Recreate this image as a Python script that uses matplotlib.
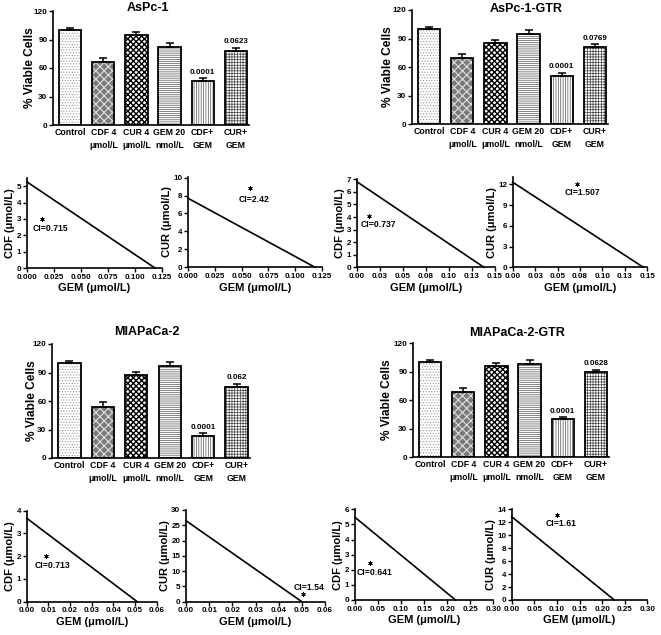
import matplotlib
matplotlib.use('Agg')
import matplotlib.pyplot as plt
import numpy as np

plt.rcParams['font.family'] = ['Liberation Sans', 'DejaVu Sans']
plt.rcParams['font.weight'] = 'bold'
plt.rcParams['axes.labelweight'] = 'bold'
plt.rcParams['hatch.linewidth'] = 0.5

# ---- bar chart data (% viable cells) ----
categories = ['Control', 'CDF 4\nμmol/L', 'CUR 4\nμmol/L', 'GEM 20\nnmol/L', 'CDF+\nGEM', 'CUR+\nGEM']
aspc1_mean = [100.3, 66, 95, 82.5, 46, 78]
aspc1_err = [2, 5, 3, 4.2, 3, 3.4]
aspc1_p = ['0.0001', '0.0623']
aspc1gtr_mean = [100.3, 69, 85.5, 95, 51, 81]
aspc1gtr_err = [2, 5, 3, 4, 3, 3]
aspc1gtr_p = ['0.0001', '0.0769']
mia_mean = [100, 54, 87.5, 97, 23.5, 75]
mia_err = [2, 5.3, 3, 4, 2.5, 3.4]
mia_p = ['0.0001', '0.062']
miagtr_mean = [100.5, 68, 96, 97.8, 39.5, 89]
miagtr_err = [2, 4.8, 2.8, 3.8, 2.2, 2.8]
miagtr_p = ['0.0001', '0.0628']
p_bars = [4, 5]

# ---- isobologram data: GEM intercept, drug intercept, combination point ----
iso_gem = [0.1185, 0.1185, 0.138, 0.1456, 0.051, 0.050, 0.218, 0.227]
iso_drug = [5.26, 7.7, 6.8, 12.3, 3.67, 26.5, 5.47, 12.86]
ci_x = [0.014, 0.058, 0.0134, 0.0713, 0.0088, 0.0506, 0.0326, 0.0996]
ci_y = [3.0, 8.8, 4.08, 12.0, 2.0, 2.4, 2.43, 13.1]
ci_text = ['CI=0.715', 'CI=2.42', 'CI=0.737', 'CI=1.507', 'CI=0.713', 'CI=1.54', 'CI=0.641', 'CI=1.61']
iso_drug_name = ['CDF', 'CUR', 'CDF', 'CUR', 'CDF', 'CUR', 'CDF', 'CUR']

W, H = 661, 635
fig = plt.figure(figsize=(W / 100, H / 100), dpi=100)


def add_ax(left, top, right, bottom):
    return fig.add_axes([left / W, 1 - bottom / H, (right - left) / W, (bottom - top) / H])


def fig_text(x, y, s, **kw):
    fig.text(x / W, 1 - y / H, s, **kw)


def style_spines(ax):
    ax.spines['top'].set_visible(False)
    ax.spines['right'].set_visible(False)
    for s in ['left', 'bottom']:
        ax.spines[s].set_linewidth(1.2)


# bar fill styles
bar_face = ['white', '#7a7a7a', 'white', 'white', 'white', 'white']
hatch_col = ['#9a9a9a', '#e0e0e0', 'black', '#555555', '#555555', '#444444']
hatches = ['......', 'xxxx', 'xxxxxx', '--------', '|||||||', '++++++']
hatch_lw = [0.5, 0.8, 1.0, 0.5, 0.5, 0.5]


def bar_panel(rect, title, title_xy, ylab_x, means, errs, pvals):
    ax = add_ax(*rect)
    x = np.arange(len(categories))
    for i in x:
        with plt.rc_context({'hatch.linewidth': hatch_lw[i]}):
            ax.bar(i, means[i], 0.67, color=bar_face[i], edgecolor=hatch_col[i],
                   hatch=hatches[i], linewidth=0, zorder=2)
    ax.bar(x, means, 0.67, fill=False, edgecolor='black', linewidth=1.3, zorder=3)
    ax.errorbar(x, means, yerr=[np.zeros(len(errs)), errs], fmt='none', ecolor='black',
                elinewidth=1.1, capsize=3, capthick=1.1, zorder=4)
    for i, p in zip(p_bars, pvals):
        ax.text(i, means[i] + errs[i] + 2.5, p, ha='center', va='bottom', fontsize=5.8)
    ax.set_xlim(-0.52, 5.4)
    ax.set_ylim(0, 120)
    ax.set_yticks([0, 30, 60, 90, 120])
    ax.set_xticks(x, categories, fontsize=6.3, linespacing=1.55)
    ax.tick_params(axis='x', length=0, pad=2)
    ax.tick_params(axis='y', length=3, width=1, labelsize=5.9, pad=1)
    style_spines(ax)
    fig_text(title_xy[0], title_xy[1], title, ha='center', va='center', fontsize=9)
    fig_text(ylab_x, (rect[1] + rect[3]) / 2, '% Viable Cells', rotation=90,
             ha='center', va='center', fontsize=8.6)
    return ax


bar_panel((53, 11, 249, 125), 'AsPc-1', (148, 8), 30, aspc1_mean, aspc1_err, aspc1_p)
bar_panel((412, 10, 608, 124), 'AsPc-1-GTR', (526, 9), 388, aspc1gtr_mean, aspc1gtr_err, aspc1gtr_p)
bar_panel((52, 344, 250, 458), 'MIAPaCa-2', (147, 332), 32, mia_mean, mia_err, mia_p)
bar_panel((413, 343, 609, 457), 'MIAPaCa-2-GTR', (517, 333), 387, miagtr_mean, miagtr_err, miagtr_p)

# isobologram panel layout
iso_rects = [(27, 178, 162, 268), (188, 176.7, 322, 267.3), (357, 179.3, 495, 267.3), (512.7, 177.4, 647.3, 267.3),
             (26.7, 510.7, 156.7, 601.7), (186, 510, 325, 601.7), (355, 509.3, 493.3, 600), (511.7, 509.3, 647.3, 600)]
iso_xticks = [np.arange(0, 0.1251, 0.025)] * 2 + [np.arange(0, 0.1501, 0.025)] * 2 + \
             [np.arange(0, 0.0601, 0.01)] * 2 + [np.arange(0, 0.3001, 0.05)] * 2
iso_xfmt = ['{:.3f}', '{:.3f}', '{:.2f}', '{:.2f}', '{:.2f}', '{:.2f}', '{:.2f}', '{:.2f}']
iso_ylim = [5.5, 10.1, 7, 13, 4, 30, 6, 14]
iso_yticks = [range(0, 6), range(0, 11, 2), range(0, 8), range(0, 13, 3),
              range(0, 5), range(0, 31, 5), range(0, 7), range(0, 15, 2)]
ci_offset = [(-7, -7), (-8, -8), (-6, -6), (-9, -6), (-8, -7), (-7, 5), (-10, -7), (-8, -6)]
gtr_labels = ['0.00', '0.03', '0.05', '0.08', '0.10', '0.13', '0.15']

for k in range(8):
    ax = add_ax(*iso_rects[k])
    ax.plot([0, iso_gem[k]], [iso_drug[k], 0], color='black', lw=1.2, clip_on=False)
    ax.plot(ci_x[k], ci_y[k], marker=(6, 2, 0), ms=3.2, mew=0.5, color='black', linestyle='none')
    ax.annotate(ci_text[k], (ci_x[k], ci_y[k]), xytext=ci_offset[k], textcoords='offset points',
                ha='left', va='center', fontsize=6.2)
    xt = iso_xticks[k]
    ax.set_xlim(0, xt[-1])
    ax.set_ylim(0, iso_ylim[k])
    if k in (2, 3):
        ax.set_xticks(xt, gtr_labels)
    else:
        ax.set_xticks(xt, [iso_xfmt[k].format(v) for v in xt])
    ax.set_yticks(list(iso_yticks[k]))
    ax.tick_params(length=3, width=1, labelsize=5.8, pad=1)
    style_spines(ax)
    ax.set_xlabel('GEM (μmol/L)', fontsize=8, labelpad=2)
    ax.set_ylabel(iso_drug_name[k] + ' (μmol/L)', fontsize=8, labelpad=1)

fig.savefig('out.png', dpi=100)
